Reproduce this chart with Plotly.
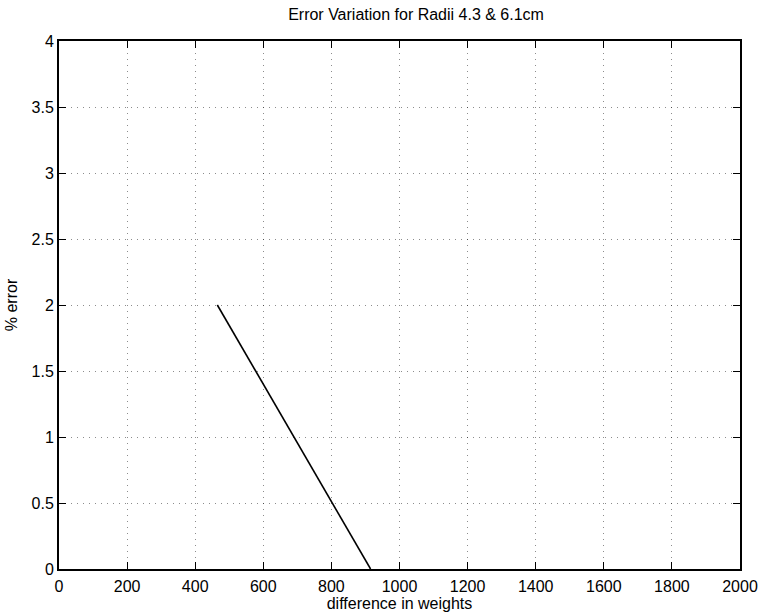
import plotly.graph_objects as go

# difference in weights vs. percentage error
weight_diff = [465, 915]
pct_error = [2.0, 0.0]

x_ticks = [0, 200, 400, 600, 800, 1000, 1200, 1400, 1600, 1800, 2000]
y_ticks = [0, 0.5, 1, 1.5, 2, 2.5, 3, 3.5, 4]
y_tick_text = ["0", "0.5", "1", "1.5", "2", "2.5", "3", "3.5", "4"]

font_family = "Liberation Sans, Arial, sans-serif"

fig = go.Figure()
fig.add_trace(go.Scatter(
    x=weight_diff, y=pct_error, mode="lines",
    line=dict(color="black", width=1.6),
    showlegend=False,
))

axis_common = dict(
    showline=True, linecolor="black", linewidth=2, mirror="ticks",
    ticks="inside", ticklen=7, tickcolor="black", tickwidth=1,
    showgrid=True, gridcolor="rgba(0,0,0,0.45)", griddash="1px,5px", gridwidth=1,
    zeroline=False, automargin=False,
    tickfont=dict(family=font_family, size=16, color="black"),
)

fig.update_layout(
    width=762, height=616,
    margin=dict(l=59, r=22, t=41, b=47),
    paper_bgcolor="white", plot_bgcolor="white",
    font=dict(family=font_family, color="black"),
    title=dict(text="Error Variation for Radii 4.3 & 6.1cm",
               x=(59 + 740) / 2 / 762, xanchor="center", y=0.977, yanchor="middle",
               xref="paper",
               font=dict(family=font_family, size=16, color="black")),
    xaxis=dict(
        range=[0, 2000], tickvals=x_ticks, ticktext=[str(v) for v in x_ticks],
        ticklabelstandoff=2,
        title=dict(text="difference in weights", standoff=3,
                   font=dict(family=font_family, size=16, color="black")),
        **axis_common,
    ),
    yaxis=dict(
        range=[0, 4], tickvals=y_ticks, ticktext=y_tick_text,
        title=dict(text="% error", standoff=10,
                   font=dict(family=font_family, size=16, color="black")),
        **axis_common,
    ),
)

fig.write_html("out.html")
